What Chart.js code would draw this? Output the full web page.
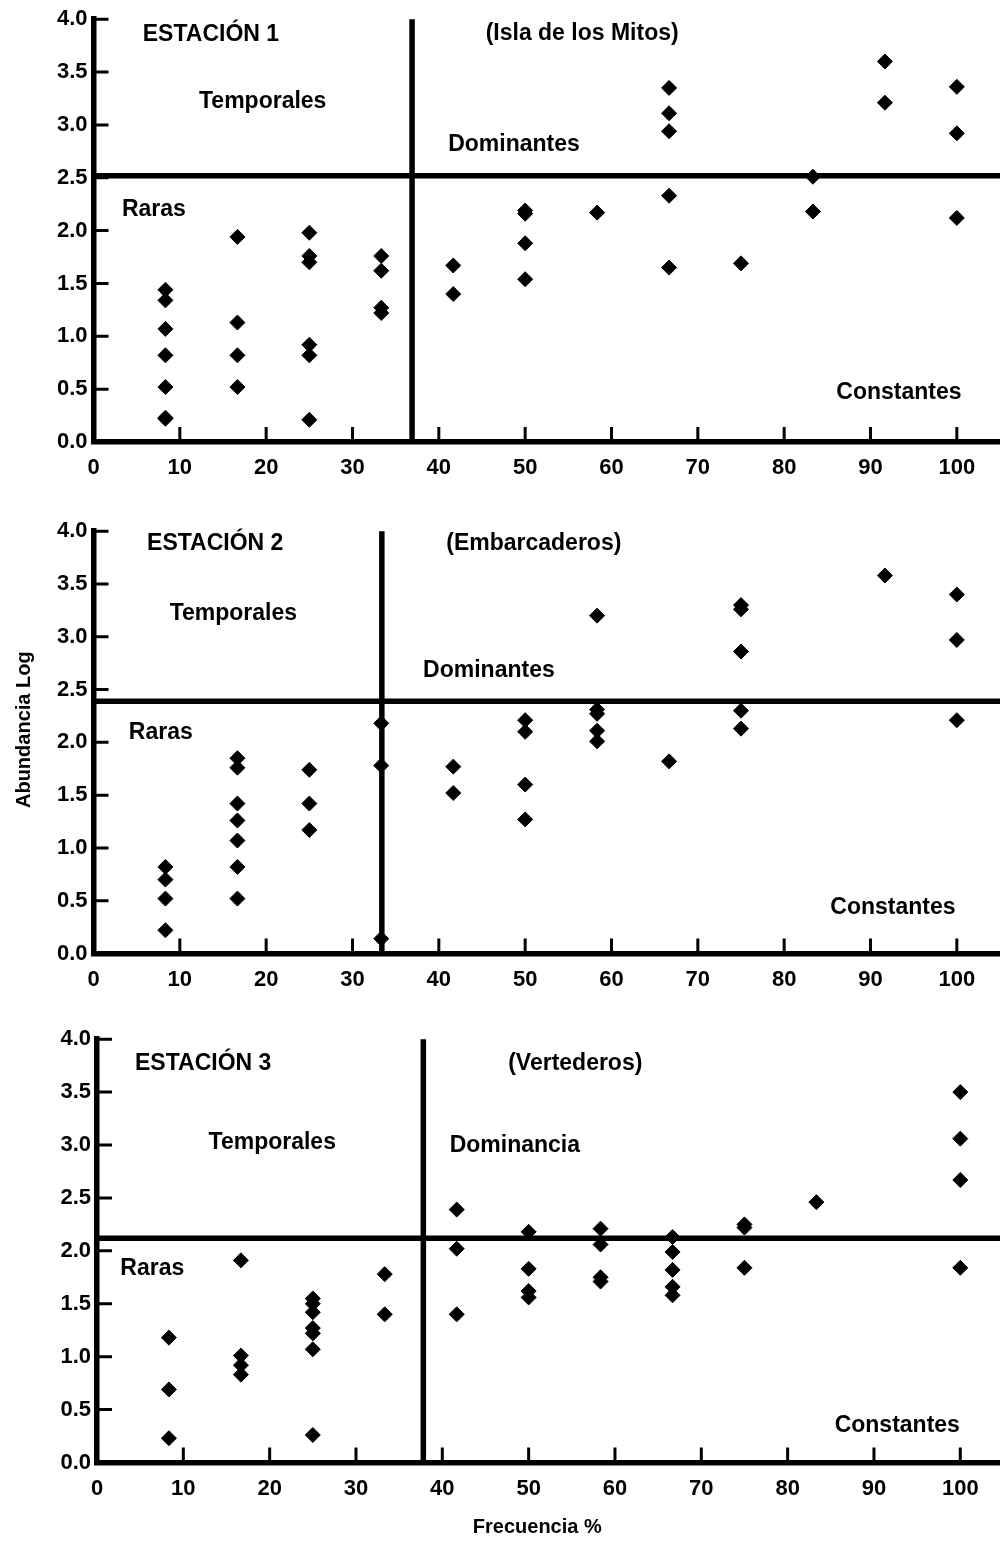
<!DOCTYPE html>
<html>
<head>
<meta charset="utf-8">
<script src="https://cdn.jsdelivr.net/npm/chart.js@4.4.0/dist/chart.umd.min.js"></script>
<style>
  body { margin: 0; background: #fff; }
  .box { position: absolute; left: 0; width: 1000px; }
</style>
</head>
<body>
<div class="box" style="top:0"><canvas id="chart1" width="1000" height="500"></canvas></div>
<div class="box" style="top:512px"><canvas id="chart2" width="1000" height="500"></canvas></div>
<div class="box" style="top:1020px"><canvas id="chart3" width="1000" height="528"></canvas></div>
<script>
// axis ticks
const xTicks = [0, 10, 20, 30, 40, 50, 60, 70, 80, 90, 100];
const yTicks = [0, 0.5, 1.0, 1.5, 2.0, 2.5, 3.0, 3.5, 4.0];

// Estación 1 (Isla de los Mitos): frecuencia % / abundancia log
const st1Freq = [8.33, 8.33, 8.33, 8.33, 8.33, 8.33, 8.33,
  16.67, 16.67, 16.67, 16.67,
  25, 25, 25, 25, 25, 25,
  33.33, 33.33, 33.33, 33.33,
  41.67, 41.67,
  50, 50, 50, 50,
  58.33,
  66.67, 66.67, 66.67, 66.67, 66.67,
  75,
  83.33, 83.33,
  91.67, 91.67,
  100, 100, 100];
const st1Abund = [1.44, 1.34, 1.07, 0.82, 0.52, 0.23, 0.22,
  1.94, 1.13, 0.82, 0.52,
  1.98, 1.76, 1.70, 0.92, 0.82, 0.21,
  1.76, 1.62, 1.27, 1.22,
  1.67, 1.40,
  2.19, 2.16, 1.88, 1.54,
  2.17,
  3.35, 3.11, 2.94, 2.33, 1.65,
  1.69,
  2.51, 2.18,
  3.60, 3.21,
  3.36, 2.92, 2.12];
const st1Limits = { freq: 36.9, abund: 2.52 };

// Estación 2 (Embarcaderos)
const st2Freq = [8.33, 8.33, 8.33, 8.33,
  16.67, 16.67, 16.67, 16.67, 16.67, 16.67, 16.67,
  25, 25, 25,
  33.33, 33.33, 33.33,
  41.67, 41.67,
  50, 50, 50, 50,
  58.33, 58.33, 58.33, 58.33, 58.33,
  66.67,
  75, 75, 75, 75, 75,
  91.67,
  100, 100, 100];
const st2Abund = [0.82, 0.70, 0.52, 0.22,
  1.85, 1.76, 1.42, 1.26, 1.07, 0.82, 0.52,
  1.74, 1.42, 1.17,
  2.18, 1.78, 0.14,
  1.77, 1.52,
  2.21, 2.10, 1.60, 1.27,
  3.20, 2.31, 2.27, 2.11, 2.01,
  1.82,
  3.30, 3.26, 2.86, 2.30, 2.13,
  3.58,
  3.40, 2.97, 2.21];
const st2Limits = { freq: 33.4, abund: 2.39 };

// Estación 3 (Vertederos)
const st3Freq = [8.33, 8.33, 8.33,
  16.67, 16.67, 16.67, 16.67,
  25, 25, 25, 25, 25, 25, 25,
  33.33, 33.33,
  41.67, 41.67, 41.67,
  50, 50, 50, 50,
  58.33, 58.33, 58.33, 58.33,
  66.67, 66.67, 66.67, 66.67, 66.67,
  75, 75, 75,
  83.33,
  100, 100, 100, 100];
const st3Abund = [1.18, 0.69, 0.23,
  1.91, 1.01, 0.92, 0.83,
  1.55, 1.50, 1.42, 1.27, 1.22, 1.07, 0.26,
  1.78, 1.40,
  2.39, 2.02, 1.40,
  2.18, 1.83, 1.62, 1.56,
  2.21, 2.06, 1.75, 1.71,
  2.13, 1.99, 1.82, 1.66, 1.58,
  2.25, 2.22, 1.84,
  2.46,
  3.50, 3.06, 2.67, 1.84];
const st3Limits = { freq: 37.8, abund: 2.12 };

const FONT = '"Liberation Sans", Arial, sans-serif';

// draws tick marks pointing into the plot, like the original
const innerTicks = {
  id: 'innerTicks',
  beforeDatasetsDraw(chart) {
    const { ctx, chartArea: a, scales: { x, y } } = chart;
    ctx.save();
    ctx.strokeStyle = '#000';
    ctx.lineWidth = 3;
    ctx.beginPath();
    yTicks.filter(v => v > 0).forEach(v => {
      const py = y.getPixelForValue(v);
      ctx.moveTo(a.left, py);
      ctx.lineTo(a.left + 15, py);
    });
    xTicks.filter(v => v > 0).forEach(v => {
      const px = x.getPixelForValue(v);
      ctx.moveTo(px, a.bottom);
      ctx.lineTo(px, a.bottom - 15);
    });
    ctx.stroke();
    ctx.restore();
  }
};

// quadrant names and other free text
const notesPlugin = {
  id: 'notes',
  afterDraw(chart, args, opts) {
    const { ctx, scales: { x, y } } = chart;
    ctx.save();
    ctx.fillStyle = '#000';
    ctx.textAlign = 'center';
    ctx.textBaseline = 'middle';
    (opts.items || []).forEach(n => {
      ctx.font = 'bold ' + (n.size || 23) + 'px ' + FONT;
      const px = n.px !== undefined ? n.px : x.getPixelForValue(n.x);
      const py = n.py !== undefined ? chart.chartArea.bottom + n.py : y.getPixelForValue(n.y);
      if (n.rotate) {
        ctx.save();
        ctx.translate(px, py);
        ctx.rotate(-Math.PI / 2);
        ctx.fillText(n.text, 0, 0);
        ctx.restore();
      } else {
        ctx.fillText(n.text, px, py);
      }
    });
    ctx.restore();
  }
};

function makeChart(id, freq, abund, limits, opt) {
  const pts = freq.map((f, i) => ({ x: f, y: abund[i] }));
  new Chart(document.getElementById(id), {
    type: 'scatter',
    data: {
      datasets: [
        {
          data: pts,
          pointStyle: 'rectRot',
          pointRadius: 7.5,
          backgroundColor: '#000',
          borderColor: '#000',
          borderWidth: 1
        },
        {
          type: 'line',
          data: [{ x: 0, y: limits.abund }, { x: opt.xMax, y: limits.abund }],
          borderColor: '#000',
          borderWidth: 5.5,
          pointRadius: 0
        },
        {
          type: 'line',
          data: [{ x: limits.freq, y: 0 }, { x: limits.freq, y: 4 }],
          borderColor: '#000',
          borderWidth: 5.5,
          borderCapStyle: 'round',
          pointRadius: 0
        }
      ]
    },
    options: {
      responsive: false,
      animation: false,
      events: [],
      layout: { autoPadding: false, padding: { top: 15, left: 0, right: 0, bottom: 0 } },
      plugins: {
        legend: { display: false },
        tooltip: { enabled: false },
        notes: { items: opt.notes }
      },
      scales: {
        x: {
          type: 'linear',
          min: 0,
          max: opt.xMax,
          afterBuildTicks: s => { s.ticks = xTicks.map(v => ({ value: v })); },
          afterFit: s => { s.height = opt.xHeight; },
          grid: { display: false, drawTicks: false },
          border: { display: true, color: '#000', width: 5.5 },
          ticks: {
            color: '#000',
            padding: 13,
            maxRotation: 0,
            font: { family: FONT, size: 22, weight: 'bold' }
          }
        },
        y: {
          min: 0,
          max: 4,
          afterBuildTicks: s => { s.ticks = yTicks.map(v => ({ value: v })); },
          afterFit: s => { s.width = opt.yWidth; },
          grid: { display: false, drawTicks: false },
          border: { display: true, color: '#000', width: 5.5 },
          ticks: {
            color: '#000',
            padding: 6,
            callback: v => v.toFixed(1),
            font: { family: FONT, size: 22, weight: 'bold' }
          }
        }
      }
    },
    plugins: [innerTicks, notesPlugin]
  });
}

makeChart('chart1', st1Freq, st1Abund, st1Limits, {
  xMax: 105, xHeight: 58, yWidth: 93.5,
  notes: [
    { text: 'ESTACIÓN 1', x: 13.6, y: 3.85 },
    { text: '(Isla de los Mitos)', x: 56.6, y: 3.86 },
    { text: 'Temporales', x: 19.6, y: 3.22 },
    { text: 'Dominantes', x: 48.7, y: 2.81 },
    { text: 'Raras', x: 7.0, y: 2.20 },
    { text: 'Constantes', x: 93.3, y: 0.47 }
  ]
});

makeChart('chart2', st2Freq, st2Abund, st2Limits, {
  xMax: 105, xHeight: 58.5, yWidth: 93.5,
  notes: [
    { text: 'ESTACIÓN 2', x: 14.1, y: 3.88 },
    { text: '(Embarcaderos)', x: 51.0, y: 3.88 },
    { text: 'Temporales', x: 16.2, y: 3.22 },
    { text: 'Dominantes', x: 45.8, y: 2.68 },
    { text: 'Raras', x: 7.8, y: 2.09 },
    { text: 'Constantes', x: 92.6, y: 0.43 },
    { text: 'Abundancia Log', px: 24, y: 2.12, rotate: true, size: 20 }
  ]
});

makeChart('chart3', st3Freq, st3Abund, st3Limits, {
  xMax: 104.6, xHeight: 85.5, yWidth: 97,
  notes: [
    { text: 'ESTACIÓN 3', x: 12.3, y: 3.77 },
    { text: '(Vertederos)', x: 55.4, y: 3.77 },
    { text: 'Temporales', x: 20.3, y: 3.02 },
    { text: 'Dominancia', x: 48.4, y: 2.99 },
    { text: 'Raras', x: 6.4, y: 1.83 },
    { text: 'Constantes', x: 92.7, y: 0.35 },
    { text: 'Frecuencia %', x: 51, py: 65, size: 20 }
  ]
});
</script>
</body>
</html>
